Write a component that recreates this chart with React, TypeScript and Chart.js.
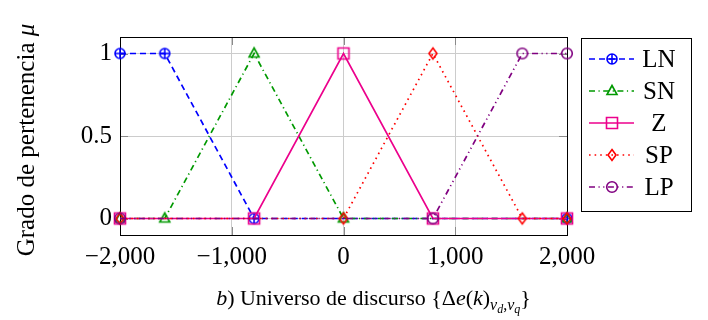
import React, { useEffect, useRef } from "react";
import { Chart, registerables } from "chart.js";

Chart.register(...registerables);

// ---- data ----
const seriesNames = ["LN", "SN", "Z", "SP", "LP"];
const lnX = [-2000, -1600, -800, 2000];
const lnY = [1, 1, 0, 0];
const snX = [-2000, -1600, -800, 0, 2000];
const snY = [0, 0, 1, 0, 0];
const zX = [-2000, -800, 0, 800, 2000];
const zY = [0, 0, 1, 0, 0];
const spX = [-2000, 0, 800, 1600, 2000];
const spY = [0, 0, 1, 0, 0];
const lpX = [-2000, 800, 1600, 2000];
const lpY = [0, 0, 1, 1];
const xTicks = [-2000, -1000, 0, 1000, 2000];
const yTicks = [0, 0.5, 1];

const FONT = "'Liberation Serif', 'Times New Roman', serif";
const FS = 25;
const TITLE_FS = 22;

type MarkerKind = "oplus" | "triangle" | "square" | "diamond" | "circle";

function makeMarker(kind: MarkerKind, color: string): HTMLCanvasElement {
  const size = 16;
  const c = document.createElement("canvas");
  c.width = size;
  c.height = size;
  const ctx = c.getContext("2d")!;
  ctx.strokeStyle = color;
  ctx.lineWidth = 1.6;
  const m = size / 2;
  ctx.beginPath();
  if (kind === "oplus") {
    ctx.arc(m, m, 5, 0, Math.PI * 2);
    ctx.moveTo(m - 5, m);
    ctx.lineTo(m + 5, m);
    ctx.moveTo(m, m - 5);
    ctx.lineTo(m, m + 5);
  } else if (kind === "triangle") {
    ctx.moveTo(m, m - 5.5);
    ctx.lineTo(m + 5, m + 3.5);
    ctx.lineTo(m - 5, m + 3.5);
    ctx.closePath();
  } else if (kind === "square") {
    ctx.rect(m - 5.5, m - 5.5, 11, 11);
  } else if (kind === "diamond") {
    ctx.moveTo(m, m - 5.5);
    ctx.lineTo(m + 4, m);
    ctx.lineTo(m, m + 5.5);
    ctx.lineTo(m - 4, m);
    ctx.closePath();
  } else {
    ctx.arc(m, m, 5.3, 0, Math.PI * 2);
  }
  ctx.stroke();
  return c;
}

function fmtX(v: number): string {
  const s = Math.abs(v).toLocaleString("en-US");
  return v < 0 ? "\u2212" + s : s;
}

export default function App() {
  const ref = useRef<HTMLCanvasElement | null>(null);

  useEffect(() => {
    const canvas = ref.current;
    if (!canvas) return;

    const defs = [
      { name: seriesNames[0], xs: lnX, ys: lnY, color: "#0000ff", dash: [6, 4], marker: "oplus" as MarkerKind },
      { name: seriesNames[1], xs: snX, ys: snY, color: "#009900", dash: [6, 3.5, 1.2, 3.5], marker: "triangle" as MarkerKind },
      { name: seriesNames[2], xs: zX, ys: zY, color: "#ec008c", dash: [], marker: "square" as MarkerKind },
      { name: seriesNames[3], xs: spX, ys: spY, color: "#ff0000", dash: [1.6, 4], marker: "diamond" as MarkerKind },
      { name: seriesNames[4], xs: lpX, ys: lpY, color: "#800080", dash: [6, 3.5, 1.2, 3.5, 1.2, 3.5], marker: "circle" as MarkerKind },
    ];
    const markers = defs.map((d) => makeMarker(d.marker, d.color));

    const datasets = defs.map((d, i) => ({
      label: d.name,
      data: d.xs.map((x, j) => ({ x, y: d.ys[j] })),
      borderColor: d.color,
      backgroundColor: d.color,
      borderWidth: 1.7,
      borderDash: d.dash,
      pointStyle: markers[i],
      pointRadius: 6,
      pointBackgroundColor: "rgba(0,0,0,0)",
      pointBorderColor: d.color,
      tension: 0,
      fill: false,
      clip: false as any,
      order: defs.length - i,
    }));

    const framePlugin = {
      id: "frame",
      beforeDatasetsDraw(chart: any) {
        const { ctx, chartArea: a, scales } = chart;
        ctx.save();
        // inside tick marks
        ctx.strokeStyle = "#8a8a8a";
        ctx.lineWidth = 1;
        const tl = 8;
        ctx.beginPath();
        xTicks.forEach((v) => {
          const px = Math.round(scales.x.getPixelForValue(v)) + 0.5;
          ctx.moveTo(px, a.bottom);
          ctx.lineTo(px, a.bottom - tl);
          ctx.moveTo(px, a.top);
          ctx.lineTo(px, a.top + tl);
        });
        yTicks.forEach((v) => {
          const py = Math.round(scales.y.getPixelForValue(v)) + 0.5;
          ctx.moveTo(a.left, py);
          ctx.lineTo(a.left + tl, py);
          ctx.moveTo(a.right, py);
          ctx.lineTo(a.right - tl, py);
        });
        ctx.stroke();
        ctx.strokeStyle = "#000";
        ctx.lineWidth = 1;
        ctx.strokeRect(Math.round(a.left) + 0.5, Math.round(a.top) + 0.5, Math.round(a.right - a.left), Math.round(a.bottom - a.top));
        ctx.restore();
      },
      afterDraw(chart: any) {
        const { ctx, chartArea: a } = chart;
        ctx.save();
        // ---- legend ----
        const lx = 581, ly = 38, lw = 110, lh = 173;
        ctx.fillStyle = "#fff";
        ctx.fillRect(lx, ly, lw, lh);
        ctx.strokeStyle = "#000";
        ctx.lineWidth = 1;
        ctx.strokeRect(lx + 0.5, ly + 0.5, lw, lh);
        defs.forEach((d, i) => {
          const cy = ly + 21 + i * 32;
          ctx.strokeStyle = d.color;
          ctx.lineWidth = 1.7;
          ctx.setLineDash(d.dash);
          ctx.beginPath();
          ctx.moveTo(589, cy);
          ctx.lineTo(634, cy);
          ctx.stroke();
          ctx.setLineDash([]);
          const mk = markers[i];
          ctx.drawImage(mk, 612 - mk.width / 2, cy - mk.height / 2);
          ctx.fillStyle = "#000";
          ctx.font = `${FS}px ${FONT}`;
          ctx.textAlign = "center";
          ctx.textBaseline = "middle";
          ctx.fillText(d.name, 659, cy + 1);
        });

        // ---- x axis title ----
        type Seg = { t: string; it?: boolean; lvl?: number };
        const segs: Seg[] = [
          { t: "b", it: true },
          { t: ") Universo de discurso {\u0394" },
          { t: "e", it: true },
          { t: "(" },
          { t: "k", it: true },
          { t: ")" },
          { t: "v", it: true, lvl: 1 },
          { t: "d", it: true, lvl: 2 },
          { t: ",", lvl: 1 },
          { t: "v", it: true, lvl: 1 },
          { t: "q", it: true, lvl: 2 },
          { t: "}" },
        ];
        const sizes = [TITLE_FS, 16, 12];
        const offs = [0, 5, 8];
        const fontFor = (s: Seg) => `${s.it ? "italic " : ""}${sizes[s.lvl || 0]}px ${FONT}`;
        let total = 0;
        segs.forEach((s) => {
          ctx.font = fontFor(s);
          total += ctx.measureText(s.t).width;
        });
        let x = (a.left + a.right) / 2 - total / 2 + 30;
        const baseY = 305;
        ctx.fillStyle = "#000";
        ctx.textAlign = "left";
        ctx.textBaseline = "alphabetic";
        segs.forEach((s) => {
          ctx.font = fontFor(s);
          ctx.fillText(s.t, x, baseY + offs[s.lvl || 0]);
          x += ctx.measureText(s.t).width;
        });

        // ---- y axis title ----
        ctx.translate(34, (a.top + a.bottom) / 2 + 4);
        ctx.rotate(-Math.PI / 2);
        const p1 = "Grado de pertenencia ";
        const p2 = "\u03bc";
        ctx.font = `${FS}px ${FONT}`;
        const w1 = ctx.measureText(p1).width;
        ctx.font = `italic ${FS}px ${FONT}`;
        const w2 = ctx.measureText(p2).width;
        let yx = -(w1 + w2) / 2;
        ctx.font = `${FS}px ${FONT}`;
        ctx.fillText(p1, yx, 0);
        yx += w1;
        ctx.font = `italic ${FS}px ${FONT}`;
        ctx.fillText(p2, yx, 0);
        ctx.restore();
      },
    };

    const chart = new Chart(canvas, {
      type: "line",
      data: { datasets: datasets as any },
      options: {
        responsive: false,
        animation: false,
        events: [],
        layout: { padding: { left: 0, top: 37, right: 141, bottom: 0 } },
        plugins: {
          legend: { display: false },
          tooltip: { enabled: false },
          title: { display: false },
        },
        scales: {
          x: {
            type: "linear",
            min: -2000,
            max: 2000,
            afterBuildTicks: (s: any) => {
              s.ticks = xTicks.map((v) => ({ value: v }));
            },
            afterFit: (s: any) => {
              s.height = 85;
            },
            grid: { color: "#cccccc", lineWidth: 1, drawTicks: false },
            border: { display: false },
            ticks: {
              padding: 7,
              color: "#000",
              font: { family: FONT, size: FS },
              maxRotation: 0,
              autoSkip: false,
              callback: (v: any) => fmtX(Number(v)),
            },
          },
          y: {
            type: "linear",
            min: -0.1,
            max: 1.1,
            afterBuildTicks: (s: any) => {
              s.ticks = yTicks.map((v) => ({ value: v }));
            },
            afterFit: (s: any) => {
              s.width = 120;
            },
            grid: { color: "#cccccc", lineWidth: 1, drawTicks: false },
            border: { display: false },
            ticks: {
              padding: 8,
              color: "#000",
              font: { family: FONT, size: FS },
              autoSkip: false,
              callback: (v: any) => String(v),
            },
          },
        },
      },
      plugins: [framePlugin],
    });

    return () => chart.destroy();
  }, []);

  return (
    <div style={{ position: "fixed", left: 0, top: 0, width: 708, height: 320, background: "#fff" }}>
      <canvas ref={ref} width={708} height={320} style={{ display: "block", width: 708, height: 320 }} />
    </div>
  );
}
